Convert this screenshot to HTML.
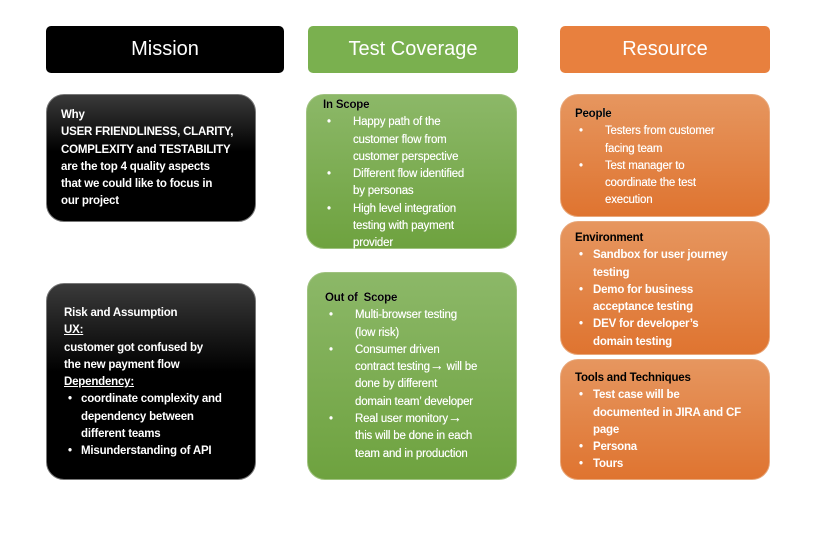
<!DOCTYPE html>
<html><head><meta charset="utf-8"><style>
body{margin:0;width:832px;height:535px;background:#fff;position:relative;overflow:hidden;font-family:"Liberation Sans",sans-serif;}
.b{position:absolute;box-sizing:border-box;border-radius:18px;font-size:11.5px;line-height:17.3px;color:#fff;font-weight:bold;white-space:nowrap;letter-spacing:-0.2px;}
.h{position:absolute;box-sizing:border-box;border-radius:5px;font-size:20px;text-align:center;line-height:46px;}
.blk{background:linear-gradient(#3a3a3a 0%,#000 45%,#000 100%);border:1px solid #777;}
.grn{background:linear-gradient(#8cb868,#6ea23f);border:1px solid #9fc27f;}
.org{background:linear-gradient(#e6965f,#df7430);border:1px solid #e8a77a;}
.t{color:#000;font-weight:bold;}
ul{margin:0;padding:0;list-style:none;}
li{position:relative;padding-left:30px;}
li:before{content:"•";position:absolute;left:4px;}
.u{text-decoration:underline;}
.nw{font-weight:normal;text-shadow:0 0 0.4px #fff;}
.ar{font-size:14px;line-height:10px;}
</style></head><body>
<div class="h" style="left:46px;top:26px;width:238px;height:47px;background:#000;color:#fff;">Mission</div>
<div class="h" style="left:308px;top:26px;width:210px;height:47px;background:#7ab04f;color:#fff;">Test Coverage</div>
<div class="h" style="left:560px;top:26px;width:210px;height:47px;background:#e8803e;color:#fff;">Resource</div>

<div class="b blk" style="left:46px;top:94px;width:210px;height:128px;padding:12px 0 0 14px;">Why<br>USER FRIENDLINESS, CLARITY,<br>COMPLEXITY and TESTABILITY<br>are the top 4 quality aspects<br>that we could like to focus in<br>our project</div>

<div class="b blk" style="left:46px;top:283px;width:210px;height:197px;padding:21px 0 0 17px;">Risk and Assumption<br><span class="u">UX:</span><br>customer got confused by<br>the new payment flow<br><span class="u">Dependency:</span>
<ul><li style="padding-left:17px">coordinate complexity and<br>dependency between<br>different teams</li><li style="padding-left:17px">Misunderstanding of API</li></ul></div>

<div class="b grn nw" style="left:306px;top:94px;width:211px;height:155px;padding:2px 0 0 16px;"><span class="t">In Scope</span>
<ul><li>Happy path of the<br>customer flow from<br>customer perspective</li><li>Different flow identified<br>by personas</li><li>High level integration<br>testing with payment<br>provider</li></ul></div>

<div class="b grn nw" style="left:307px;top:272px;width:210px;height:208px;padding:17px 0 0 17px;"><span class="t">Out of &nbsp;Scope</span>
<ul><li>Multi-browser testing<br>(low risk)</li><li>Consumer driven<br>contract testing<span class="ar">→</span> will be<br>done by different<br>domain team’ developer</li><li>Real user monitory<span class="ar">→</span><br>this will be done in each<br>team and in production</li></ul></div>

<div class="b org nw" style="left:560px;top:94px;width:210px;height:123px;padding:11px 0 0 14px;"><span class="t">People</span>
<ul><li>Testers from customer<br>facing team</li><li>Test manager to<br>coordinate the test<br>execution</li></ul></div>

<div class="b org" style="left:560px;top:221px;width:210px;height:134px;padding:8px 0 0 14px;"><span class="t">Environment</span>
<ul><li style="padding-left:18px">Sandbox for user journey<br>testing</li><li style="padding-left:18px">Demo for business<br>acceptance testing</li><li style="padding-left:18px">DEV for developer’s<br>domain testing</li></ul></div>

<div class="b org" style="left:560px;top:359px;width:210px;height:121px;padding:10px 0 0 14px;"><span class="t">Tools and Techniques</span>
<ul><li style="padding-left:18px">Test case will be<br>documented in JIRA and CF<br>page</li><li style="padding-left:18px">Persona</li><li style="padding-left:18px">Tours</li></ul></div>
</body></html>
